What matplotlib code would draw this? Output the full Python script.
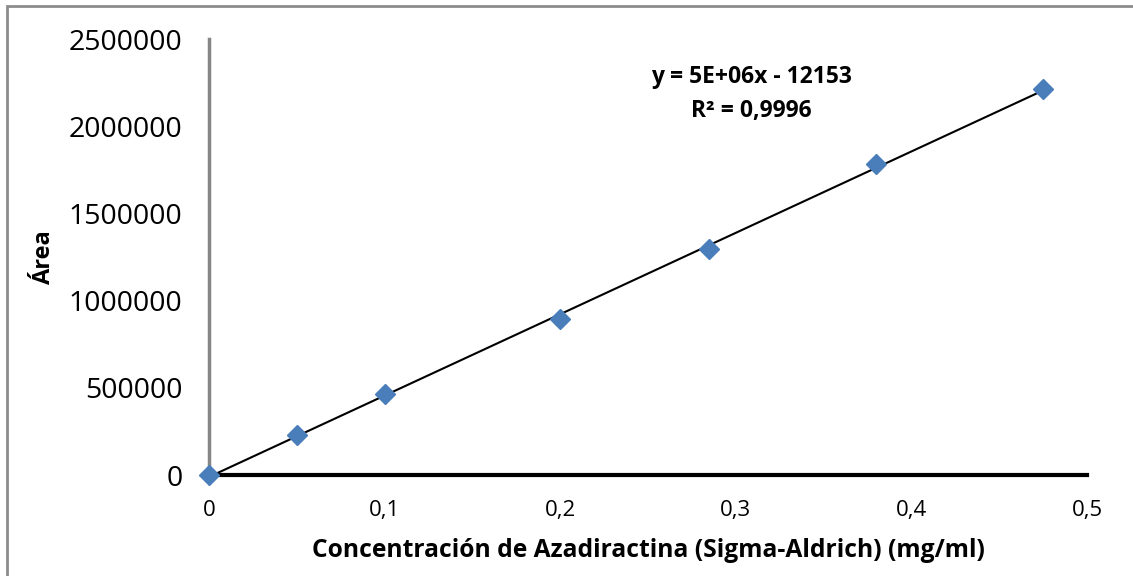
import numpy as np
import matplotlib
matplotlib.use("Agg")
import matplotlib.pyplot as plt
from matplotlib.patches import Rectangle
from matplotlib.ticker import FuncFormatter

# Curva de calibracion de azadiractina
conc = [0.0, 0.05, 0.1, 0.2, 0.285, 0.38, 0.475]
area = [0, 228000, 462000, 894000, 1296000, 1781000, 2213000]
x_ticks = [0, 0.1, 0.2, 0.3, 0.4, 0.5]
y_ticks = [0, 500000, 1000000, 1500000, 2000000, 2500000]

plt.rcParams['font.family'] = ['Open Sans', 'DejaVu Sans']

fig = plt.figure(figsize=(11.33, 5.76), dpi=100)
ax = fig.add_axes([209 / 1133, 1 - 475 / 576, (1087 - 209) / 1133, (475 - 39) / 576])

# recuadro gris del grafico
fig.patches.append(Rectangle((7 / 1133, -0.01), 1.0, 1 - 6 / 576 + 0.01,
                             transform=fig.transFigure, fill=False,
                             edgecolor="#8c8c8c", linewidth=2))

# linea de tendencia
m, b = np.polyfit(conc, area, 1)
xs = np.array([0, max(conc)])
ax.plot(xs, m * xs + b, color="black", linewidth=1.5, zorder=2)
ax.plot(conc, area, linestyle="none", marker="D", markersize=10,
        color="#4a7ebb", zorder=3, clip_on=False)

ax.set_xlim(0, 0.5)
ax.set_ylim(0, 2500000)
ax.set_xticks(x_ticks)
ax.set_yticks(y_ticks)
ax.xaxis.set_major_formatter(FuncFormatter(lambda v, p: ("%g" % v).replace(".", ",")))
ax.yaxis.set_major_formatter(FuncFormatter(lambda v, p: "%d" % v))
ax.tick_params(axis="x", length=0, labelsize=16, pad=18)
ax.tick_params(axis="y", length=0, labelsize=20.5, pad=19)

for s in ["top", "right"]:
    ax.spines[s].set_visible(False)
ax.spines["left"].set_color("#868686")
ax.spines["left"].set_linewidth(2.5)
ax.spines["bottom"].set_color("black")
ax.spines["bottom"].set_linewidth(3)

ax.set_xlabel("Concentración de Azadiractina (Sigma-Aldrich) (mg/ml)",
              fontsize=17.7, fontweight="bold", labelpad=12)
ax.set_ylabel("Área", fontsize=17, fontweight="bold", labelpad=9)

ax.text(0.309, 2187000, "y = 5E+06x - 12153\nR² = 0,9996", ha="center",
        va="center", fontsize=16.5, fontweight="bold", linespacing=1.55)

fig.savefig("out.png", dpi=100)
